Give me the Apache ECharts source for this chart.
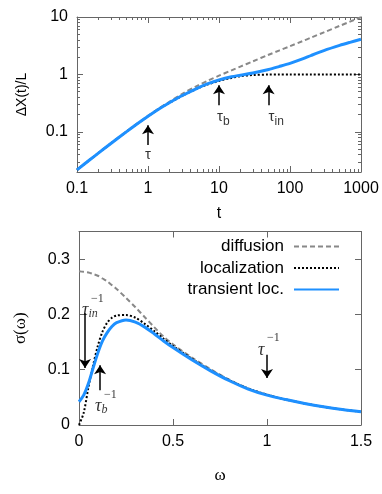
<!DOCTYPE html>
<html>
<head>
<meta charset="utf-8">
<script src="https://cdn.jsdelivr.net/npm/echarts@6/dist/echarts.min.js"></script>
<style>
html, body { margin: 0; padding: 0; background: #fff; }
#chart { width: 382px; height: 494px; }
</style>
</head>
<body>
<div id="chart"></div>
<script>
// top panel: displacement vs time (log-log)
var tTop = [0.1, 0.15, 0.2, 0.3, 0.5, 0.7, 1, 1.5, 2, 3, 5, 7, 10, 15, 20, 30, 50, 70, 100, 150, 200, 300, 500, 700, 1000];
var dxDiffusion = [0.0218, 0.0324, 0.0428, 0.0632, 0.102, 0.139, 0.19, 0.266, 0.334, 0.455, 0.64, 0.78, 0.95, 1.18, 1.37, 1.69, 2.2, 2.6, 3.1, 3.8, 4.4, 5.4, 7.0, 8.3, 9.9];
var dxLocal = [0.0218, 0.0323, 0.0426, 0.0627, 0.101, 0.137, 0.187, 0.26, 0.32, 0.42, 0.57, 0.67, 0.77, 0.87, 0.93, 0.975, 0.995, 1, 1, 1, 1, 1, 1, 1, 1];
var dxTransient = [0.0218, 0.0323, 0.0426, 0.0627, 0.101, 0.137, 0.187, 0.26, 0.322, 0.425, 0.58, 0.69, 0.80, 0.91, 0.97, 1.06, 1.22, 1.37, 1.56, 1.86, 2.15, 2.6, 3.2, 3.62, 4.1];

// bottom panel: conductivity vs frequency
var omega = [0, 0.025, 0.05, 0.075, 0.1, 0.125, 0.15, 0.175, 0.2, 0.25, 0.3, 0.35, 0.4, 0.45, 0.5, 0.6, 0.7, 0.8, 0.9, 1.0, 1.1, 1.2, 1.3, 1.4, 1.5];
var sigDiffusion = [0.278, 0.277, 0.276, 0.273, 0.270, 0.265, 0.260, 0.253, 0.246, 0.230, 0.213, 0.195, 0.177, 0.160, 0.146, 0.122, 0.101, 0.082, 0.066, 0.055, 0.046, 0.039, 0.033, 0.028, 0.024];
var sigLocal = [0, 0.022, 0.068, 0.108, 0.143, 0.169, 0.185, 0.194, 0.198, 0.199, 0.194, 0.183, 0.170, 0.156, 0.143, 0.120, 0.099, 0.081, 0.066, 0.055, 0.046, 0.039, 0.033, 0.028, 0.024];
var sigTransient = [0.042, 0.054, 0.075, 0.103, 0.130, 0.152, 0.167, 0.178, 0.185, 0.190, 0.186, 0.177, 0.165, 0.152, 0.140, 0.118, 0.098, 0.080, 0.065, 0.054, 0.046, 0.039, 0.033, 0.028, 0.024];

var seriesNames = ['diffusion', 'localization', 'transient loc.'];

// arrows: [x, from y, to y]
var topArrows = [[1, 0.059, 0.13], [10, 0.29, 0.65], [50, 0.29, 0.65]];
var botArrows = [[0.032, 0.202, 0.103], [0.112, 0.063, 0.108], [1, 0.127, 0.085]];

// annotation labels: [x, y, text]  (top: centred, bottom: left edge)
var topNotes = [[1, 0.039, '{t|τ}'], [11.5, 0.18, '{t|τ}{s|b}'], [64, 0.18, '{t|τ}{s|in}']];
var botNotes = [[0.016, 0.217, '{p|}{u|−1}\n{t|τ}{s|in}'], [0.085, 0.043, '{p|}{u|−1}\n{t|τ}{s|b}'], [0.952, 0.145, '{p|}{u|−1}\n{t|τ}']];

var GRAY = '#888888';
var BLUE = '#1e90ff';
var FRAME = '#666666';
var FONT = 'Liberation Sans';

function pairs(xs, ys) {
    return xs.map(function (x, i) { return [x, ys[i]]; });
}

function axis(extra, labels) {
    var a = {
        axisLine: { show: true, onZero: false, lineStyle: { color: FRAME, width: 1 } },
        axisTick: { show: true, inside: true, length: 6, lineStyle: { color: FRAME } },
        splitLine: { show: false },
        axisLabel: { show: labels, color: '#000', fontSize: 16, fontFamily: FONT, margin: 9 }
    };
    return Object.assign(a, extra);
}

function logLabel(v) {
    var l = Math.log10(v);
    return Math.abs(l - Math.round(l)) < 1e-6 ? String(+v.toPrecision(3)) : '';
}

function arrowLines(list) {
    return list.map(function (a) {
        return [{ coord: [a[0], a[1]] }, { coord: [a[0], a[2]] }];
    });
}

function noteData(list) {
    return list.map(function (n) {
        return { value: [n[0], n[1]], label: { formatter: n[2] } };
    });
}

var topRich = {
    t: { fontSize: 15, fontFamily: FONT, color: '#000' },
    s: { fontSize: 12, fontFamily: FONT, color: '#000', padding: [8, 0, 0, 0] }
};
var botRich = {
    t: { fontSize: 18, fontFamily: 'Liberation Serif', fontStyle: 'italic', color: '#000', lineHeight: 13 },
    s: { fontSize: 12, fontFamily: 'Liberation Serif', fontStyle: 'italic', color: '#000', lineHeight: 13, padding: [7, 0, 0, 0] },
    u: { fontSize: 12, fontFamily: 'Liberation Serif', color: '#000', lineHeight: 10 },
    p: { width: 9, lineHeight: 10 }
};

var logMinor = { show: true, splitNumber: 9, length: 3, lineStyle: { color: FRAME } };

var chart = echarts.init(document.getElementById('chart'));
chart.setOption({
    animation: false,
    backgroundColor: '#fff',
    grid: [
        { left: 77, right: 21, top: 17, height: 155 },
        { left: 79, right: 21, top: 231.5, height: 193.5 }
    ],
    legend: seriesNames.map(function (n, i) {
        return {
            data: [n],
            right: 42,
            top: 238 + i * 21.5,
            padding: 0,
            align: 'right',
            itemWidth: 45,
            itemHeight: 14,
            itemStyle: { opacity: 0 },
            textStyle: { fontSize: 17, fontFamily: FONT, color: '#000', padding: [0, 5, 0, 0] },
            selectedMode: false
        };
    }),
    xAxis: [
        axis({ type: 'log', gridIndex: 0, min: 0.1, max: 1000, minorTick: logMinor,
            name: 't', nameLocation: 'middle', nameGap: 34,
            nameTextStyle: { fontSize: 16, fontFamily: FONT, color: '#000' },
            axisLabel: { show: true, color: '#000', fontSize: 16, fontFamily: FONT, margin: 9, formatter: logLabel } }, true),
        axis({ type: 'log', gridIndex: 0, min: 0.1, max: 1000, position: 'top', minorTick: logMinor }, false),
        axis({ type: 'value', gridIndex: 1, min: 0, max: 1.5, interval: 0.5,
            name: 'ω', nameLocation: 'middle', nameGap: 42,
            nameTextStyle: { fontSize: 17, fontFamily: 'Liberation Serif', color: '#000' } }, true),
        axis({ type: 'value', gridIndex: 1, min: 0, max: 1.5, interval: 0.5, position: 'top' }, false)
    ],
    yAxis: [
        axis({ type: 'log', gridIndex: 0, min: 0.02, max: 10, minorTick: logMinor,
            name: 'ΔX(t)/L', nameLocation: 'middle', nameGap: 48, nameRotate: 90,
            nameTextStyle: { fontSize: 14, fontFamily: FONT, color: '#000' },
            axisLabel: { show: true, color: '#000', fontSize: 16, fontFamily: FONT, margin: 9, formatter: logLabel } }, true),
        axis({ type: 'log', gridIndex: 0, min: 0.02, max: 10, position: 'right', minorTick: logMinor }, false),
        axis({ type: 'value', gridIndex: 1, min: 0, max: 0.35, interval: 0.1,
            name: 'σ(ω)', nameLocation: 'middle', nameGap: 50, nameRotate: 90,
            nameTextStyle: { fontSize: 17, fontFamily: 'Liberation Serif', color: '#000' },
            axisLabel: { show: true, color: '#000', fontSize: 16, fontFamily: FONT, margin: 9, showMaxLabel: false } }, true),
        axis({ type: 'value', gridIndex: 1, min: 0, max: 0.35, interval: 0.1, position: 'right' }, false)
    ],
    series: [
        { name: seriesNames[0], type: 'line', xAxisIndex: 0, yAxisIndex: 0, data: pairs(tTop, dxDiffusion),
            showSymbol: false, symbol: 'none', smooth: 0.3, lineStyle: { color: GRAY, width: 2, type: [5, 3] }, itemStyle: { color: GRAY } },
        { name: seriesNames[1], type: 'line', xAxisIndex: 0, yAxisIndex: 0, data: pairs(tTop, dxLocal),
            showSymbol: false, symbol: 'none', smooth: 0.3, lineStyle: { color: '#000', width: 2, type: [2, 2] }, itemStyle: { color: '#000' } },
        { name: seriesNames[2], type: 'line', xAxisIndex: 0, yAxisIndex: 0, data: pairs(tTop, dxTransient),
            showSymbol: false, symbol: 'none', smooth: 0.3, lineStyle: { color: BLUE, width: 3 }, itemStyle: { color: BLUE } },
        { name: seriesNames[0], type: 'line', xAxisIndex: 2, yAxisIndex: 2, data: pairs(omega, sigDiffusion),
            showSymbol: false, symbol: 'none', smooth: 0.3, lineStyle: { color: GRAY, width: 2, type: [5, 3] }, itemStyle: { color: GRAY } },
        { name: seriesNames[1], type: 'line', xAxisIndex: 2, yAxisIndex: 2, data: pairs(omega, sigLocal),
            showSymbol: false, symbol: 'none', smooth: 0.3, lineStyle: { color: '#000', width: 2, type: [2, 2] }, itemStyle: { color: '#000' } },
        { name: seriesNames[2], type: 'line', xAxisIndex: 2, yAxisIndex: 2, data: pairs(omega, sigTransient),
            showSymbol: false, symbol: 'none', smooth: 0.3, lineStyle: { color: BLUE, width: 3 }, itemStyle: { color: BLUE } },
        { type: 'scatter', xAxisIndex: 0, yAxisIndex: 0, symbolSize: 0, silent: true,
            data: noteData(topNotes),
            label: { show: true, position: 'inside', rich: topRich },
            markLine: { silent: true, symbol: ['none', 'arrow'], symbolSize: 9, label: { show: false },
                lineStyle: { color: '#000', width: 1.5, type: 'solid' }, data: arrowLines(topArrows) } },
        { type: 'scatter', xAxisIndex: 2, yAxisIndex: 2, symbolSize: 0, silent: true,
            data: noteData(botNotes),
            label: { show: true, position: 'inside', align: 'left', verticalAlign: 'middle', rich: botRich },
            markLine: { silent: true, symbol: ['none', 'arrow'], symbolSize: 9, label: { show: false },
                lineStyle: { color: '#000', width: 1.5, type: 'solid' }, data: arrowLines(botArrows) } }
    ]
});
</script>
</body>
</html>
